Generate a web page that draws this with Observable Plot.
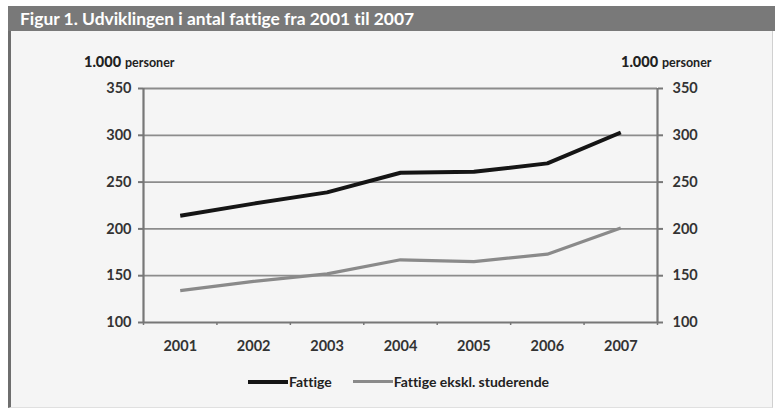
<!DOCTYPE html>
<html>
<head>
<meta charset="utf-8">
<script src="https://cdn.jsdelivr.net/npm/d3@7"></script>
<script src="https://cdn.jsdelivr.net/npm/@observablehq/plot@0.6"></script>
<style>
  html, body { margin: 0; padding: 0; background: #ffffff; }
  body { width: 775px; height: 411px; position: relative; overflow: hidden; font-family: Lato, "Open Sans", sans-serif;
         font-variant-ligatures: none; font-feature-settings: "liga" 0, "clig" 0; }
  #frame { position: absolute; left: 8px; top: 6px; width: 765px; height: 402px; background: #f5f5f5;
           border-left: 3px solid #6e6e6e; border-right: 1px solid #d0d0d0; border-bottom: 1px solid #e0e0e0; box-sizing: border-box; }
  #title { position: absolute; left: 8px; top: 6px; width: 767px; height: 25px; background: #797979; color: #fff;
           font-weight: 700; font-size: 17.4px; line-height: 25px; padding-left: 12px; box-sizing: border-box; }
  #chart { position: absolute; left: 0; top: 32px; }
  .unit { position: absolute; top: 51px; font-weight: 700; color: #222; white-space: nowrap; }
  .unit b { font-size: 14.5px; }
  .unit span { font-size: 12.5px; }
  #legend { position: absolute; top: 373px; left: 248px; display: flex; gap: 21px;
            font-size: 14px; font-weight: 700; color: #222; }
  .item { display: flex; align-items: center; }
  .sw { display: inline-block; width: 40px; height: 3px; margin-right: 1px; }
</style>
</head>
<body>
<div id="frame"></div>
<div id="title">Figur 1. Udviklingen i antal fattige fra 2001 til 2007</div>
<div class="unit" style="left:84px"><b>1.000</b> <span>personer</span></div>
<div class="unit" style="left:621px"><b>1.000</b> <span>personer</span></div>
<div id="chart"></div>
<div id="legend"></div>
<script>
const years = [2001, 2002, 2003, 2004, 2005, 2006, 2007];
const fattige = [214, 227, 239, 260, 261, 270, 303];
const fattigeEksklStud = [134, 144, 152, 167, 165, 173, 201];
const seriesNames = ["Fattige", "Fattige ekskl. studerende"];
const seriesColors = ["#151515", "#8a8a8a"];
const seriesWidths = [4, 3.2];
const yTicks = [100, 150, 200, 250, 300, 350];

const data = [];
years.forEach((yr, i) => {
  data.push({year: yr, value: fattige[i], series: seriesNames[0]});
  data.push({year: yr, value: fattigeEksklStud[i], series: seriesNames[1]});
});
const boundaries = [years[0] - 0.5, ...years.map(y => y + 0.5)];

const plot = Plot.plot({
  width: 775,
  height: 345,
  marginLeft: 143,
  marginRight: 118,
  marginTop: 56,
  marginBottom: 55,
  style: {background: "transparent", fontFamily: "Lato, 'Open Sans', sans-serif", fontSize: "14.5px", fontWeight: 700, color: "#333"},
  x: {type: "linear", domain: [years[0] - 0.5, years[years.length - 1] + 0.5]},
  y: {domain: [100, 350]},
  color: {domain: seriesNames, range: seriesColors},
  marks: [
    Plot.ruleY(yTicks.slice(1), {stroke: "#8c8c8c", strokeWidth: 1.8}),
    Plot.axisY({anchor: "left", ticks: yTicks, tickSize: 5, tickPadding: 7, label: null, stroke: "#777", strokeWidth: 2, fill: "#333", fontSize: 14.5}),
    Plot.axisY({anchor: "right", ticks: yTicks, tickSize: 5, tickPadding: 10, label: null, stroke: "#777", strokeWidth: 2, fill: "#333", fontSize: 14.5}),
    Plot.ruleX([boundaries[0], boundaries[boundaries.length - 1]], {stroke: "#777", strokeWidth: 2.2}),
    Plot.ruleY([100], {stroke: "#777", strokeWidth: 2.2}),
    Plot.axisX({ticks: boundaries, tickSize: 3, tickFormat: () => "", label: null, stroke: "#777", strokeWidth: 1.5}),
    Plot.axisX({ticks: years, tickSize: 0, tickPadding: 18, tickFormat: d => String(d), label: null, fill: "#333", fontSize: 14.5}),
    Plot.line(data, {x: "year", y: "value", z: "series", stroke: "series", strokeWidth: 3.5, curve: "linear"}),
  ]
});
document.getElementById("chart").appendChild(plot);
d3.select(plot).selectAll("g[aria-label='line'] path")
  .attr("stroke-width", function() {
    const c = this.getAttribute("stroke");
    const i = seriesColors.indexOf(c);
    return i >= 0 ? seriesWidths[i] : 3.5;
  })
  .attr("stroke-linecap", "butt");

const legend = document.getElementById("legend");
seriesNames.forEach((name, i) => {
  const it = document.createElement("div");
  it.className = "item";
  const sw = document.createElement("span");
  sw.className = "sw";
  sw.style.background = seriesColors[i];
  sw.style.height = seriesWidths[i] + "px";
  it.appendChild(sw);
  it.appendChild(document.createTextNode(name));
  legend.appendChild(it);
});
</script>
</body>
</html>
